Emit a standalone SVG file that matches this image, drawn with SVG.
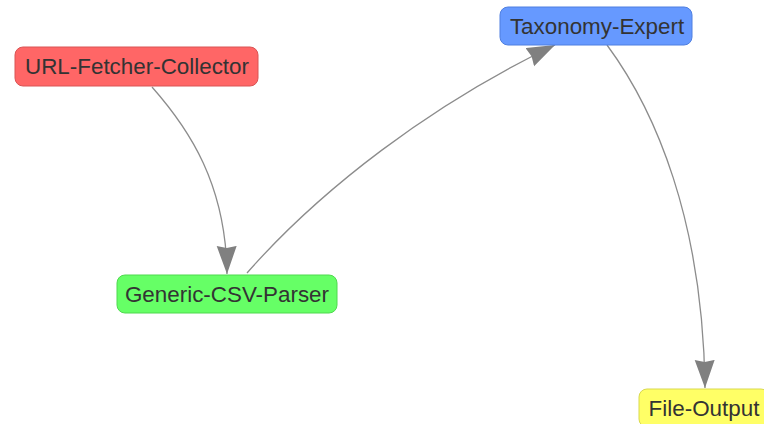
<svg xmlns="http://www.w3.org/2000/svg" width="764" height="424" viewBox="0 0 764 424">
  <style>
    .node rect { stroke-width: 1; }
    .node text { font-family: "Liberation Sans", Arial, sans-serif; font-size: 22.4px; fill: #333; text-anchor: middle; dominant-baseline: central; }
    .edge { fill: none; stroke: #8c8c8c; stroke-width: 1.3; marker-end: url(#arrow); }
  </style>
  <defs>
    <marker id="arrow" markerUnits="userSpaceOnUse" markerWidth="30" markerHeight="22" refX="28" refY="10" orient="auto">
      <path d="M0,0 L28,10 L0,20 L2,10 Z" fill="#808080"/>
    </marker>
  </defs>

  <g id="connectors">
    <path class="edge" d="M152,87 C190,130 226,185 227,274"/>
    <path class="edge" d="M247,273 C320,190 430,105 555,45"/>
    <path class="edge" d="M607,45 C655,110 703,220 705,388"/>
  </g>

  <g id="url-fetcher-collector" class="node">
    <rect x="15" y="47" width="243" height="39" rx="8" fill="#ff6666" stroke="#d95454"/>
    <text x="137" y="66.5">URL-Fetcher-Collector</text>
  </g>

  <g id="taxonomy-expert" class="node">
    <rect x="500" y="7" width="192" height="38" rx="8" fill="#6699ff" stroke="#4f7fe0"/>
    <text x="597" y="26">Taxonomy-Expert</text>
  </g>

  <g id="generic-csv-parser" class="node">
    <rect x="117" y="275" width="220" height="38" rx="8" fill="#66ff66" stroke="#4fd94f"/>
    <text x="227" y="294">Generic-CSV-Parser</text>
  </g>

  <g id="file-output" class="node">
    <rect x="639" y="389" width="130" height="38" rx="8" fill="#ffff66" stroke="#d9d94f"/>
    <text x="704" y="408">File-Output</text>
  </g>
</svg>
